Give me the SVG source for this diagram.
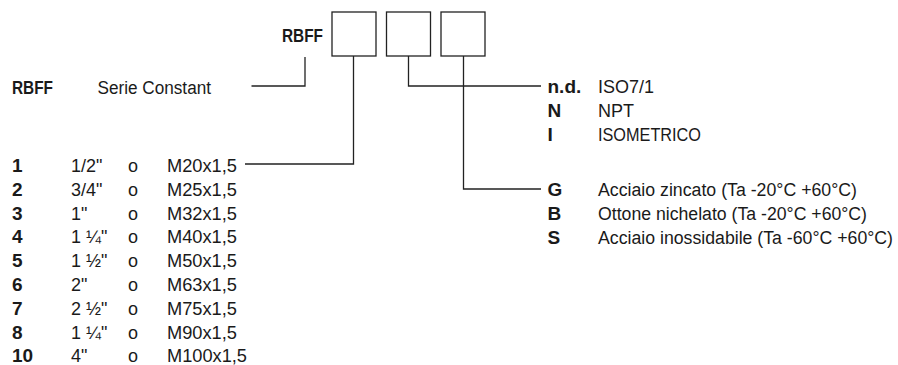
<svg xmlns="http://www.w3.org/2000/svg" width="898" height="365" viewBox="0 0 898 365">
<style>
  text { font-family: "Liberation Sans", Arial, sans-serif; font-size: 18px; fill: #1a1a1a; }
  .b { font-weight: bold; font-size: 19px; }
  .box { fill: #fff; stroke: #222; stroke-width: 1.3; }
  .ln { fill: none; stroke: #222; stroke-width: 1.3; }
</style>
<rect width="898" height="365" fill="#fff"/>
<g id="connectors">
  <polyline class="ln" points="251.5,86 305,86 305,57"/>
  <polyline class="ln" points="245,164 353.5,164 353.5,56"/>
  <polyline class="ln" points="408.5,56 408.5,86 541,86"/>
  <polyline class="ln" points="463.5,56 463.5,189 541,189"/>
</g>
<g id="header">
  <text class="b" x="282" y="42" textLength="41" lengthAdjust="spacingAndGlyphs">RBFF</text>
</g>
<g id="box1"><rect class="box" x="332" y="12" width="44" height="44"/></g>
<g id="box2"><rect class="box" x="386.5" y="12" width="44" height="44"/></g>
<g id="box3"><rect class="box" x="441" y="12" width="44" height="44"/></g>
<g id="serie">
  <text class="b" x="12" y="94" textLength="41" lengthAdjust="spacingAndGlyphs">RBFF</text>
  <text x="97.5" y="94" textLength="113.5" lengthAdjust="spacingAndGlyphs">Serie Constant</text>
</g>
<g id="sizes">
  <text class="b" x="12" y="172">1</text><text x="71" y="172">1/2"</text><text x="128" y="172">o</text><text x="167" y="172" textLength="70" lengthAdjust="spacingAndGlyphs">M20x1,5</text>
  <text class="b" x="12" y="195.8">2</text><text x="71" y="195.8">3/4"</text><text x="128" y="195.8">o</text><text x="167" y="195.8" textLength="70" lengthAdjust="spacingAndGlyphs">M25x1,5</text>
  <text class="b" x="12" y="219.6">3</text><text x="71" y="219.6">1"</text><text x="128" y="219.6">o</text><text x="167" y="219.6" textLength="70" lengthAdjust="spacingAndGlyphs">M32x1,5</text>
  <text class="b" x="12" y="243.4">4</text><text x="71" y="243.4">1 ¼"</text><text x="128" y="243.4">o</text><text x="167" y="243.4" textLength="70" lengthAdjust="spacingAndGlyphs">M40x1,5</text>
  <text class="b" x="12" y="267.2">5</text><text x="71" y="267.2">1 ½"</text><text x="128" y="267.2">o</text><text x="167" y="267.2" textLength="70" lengthAdjust="spacingAndGlyphs">M50x1,5</text>
  <text class="b" x="12" y="291">6</text><text x="71" y="291">2"</text><text x="128" y="291">o</text><text x="167" y="291" textLength="70" lengthAdjust="spacingAndGlyphs">M63x1,5</text>
  <text class="b" x="12" y="314.8">7</text><text x="71" y="314.8">2 ½"</text><text x="128" y="314.8">o</text><text x="167" y="314.8" textLength="70" lengthAdjust="spacingAndGlyphs">M75x1,5</text>
  <text class="b" x="12" y="338.6">8</text><text x="71" y="338.6">1 ¼"</text><text x="128" y="338.6">o</text><text x="167" y="338.6" textLength="70" lengthAdjust="spacingAndGlyphs">M90x1,5</text>
  <text class="b" x="12" y="362.4">10</text><text x="71" y="362.4">4"</text><text x="128" y="362.4">o</text><text x="167" y="362.4" textLength="80" lengthAdjust="spacingAndGlyphs">M100x1,5</text>
</g>
<g id="threads">
  <text class="b" x="547.5" y="93">n.d.</text><text x="598" y="93">ISO7/1</text>
  <text class="b" x="547.5" y="117">N</text><text x="598" y="117">NPT</text>
  <text class="b" x="547.5" y="141">I</text><text x="598" y="141" textLength="103" lengthAdjust="spacingAndGlyphs">ISOMETRICO</text>
</g>
<g id="materials">
  <text class="b" x="547.5" y="196">G</text><text x="598" y="196" textLength="259" lengthAdjust="spacingAndGlyphs">Acciaio zincato (Ta -20°C +60°C)</text>
  <text class="b" x="547.5" y="219.8">B</text><text x="598" y="219.8" textLength="269" lengthAdjust="spacingAndGlyphs">Ottone nichelato (Ta -20°C +60°C)</text>
  <text class="b" x="547.5" y="243.6">S</text><text x="598" y="243.6" textLength="295" lengthAdjust="spacingAndGlyphs">Acciaio inossidabile (Ta -60°C +60°C)</text>
</g>
</svg>
